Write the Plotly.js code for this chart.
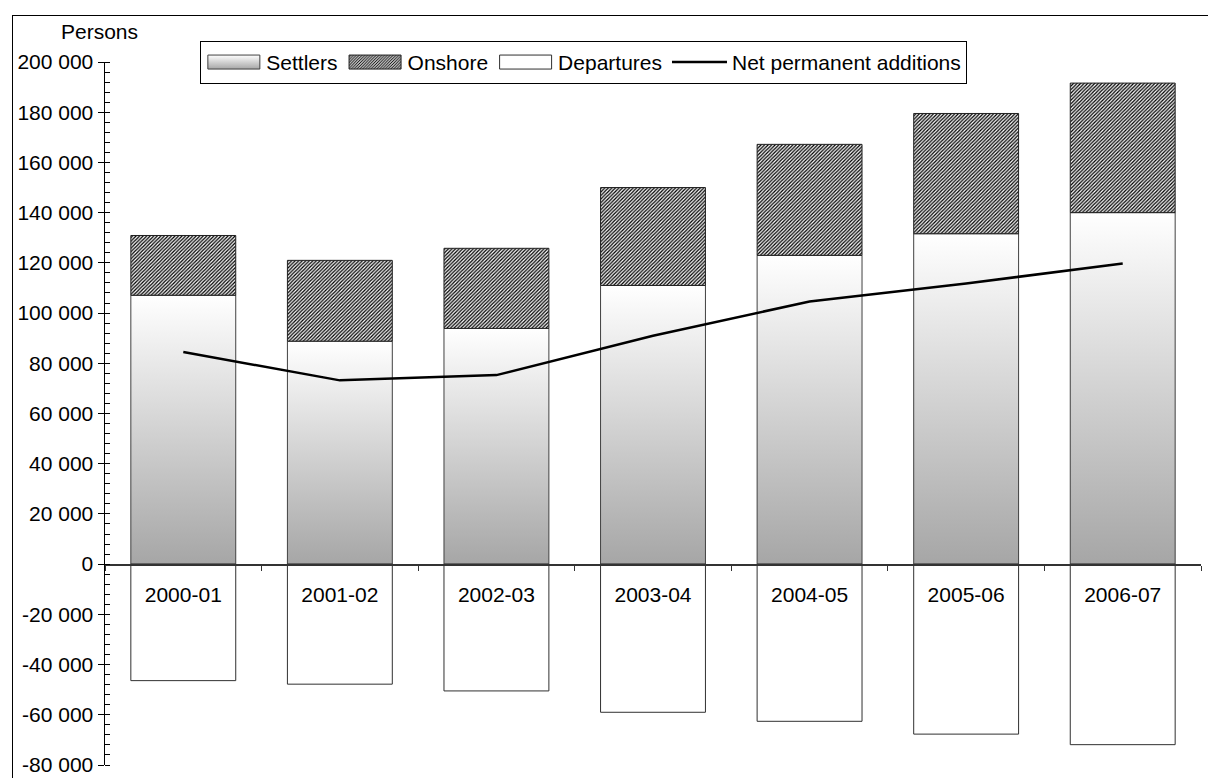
<!DOCTYPE html>
<html>
<head>
<meta charset="utf-8">
<script src="https://cdn.plot.ly/plotly-3.0.1.min.js"></script>
<style>
  html, body { margin: 0; padding: 0; background: #fff; overflow: hidden; }
  #chart { position: absolute; left: 0; top: 0; width: 1208px; height: 778px; }
  #frame { position: absolute; left: 12px; top: 15px; width: 1400px; height: 1000px;
           border: 1.5px solid #000; pointer-events: none; box-sizing: border-box; }
</style>
</head>
<body>
<div id="chart"></div>
<div id="frame"></div>
<script>
// ---- data (persons) ----
const years = ["2000-01", "2001-02", "2002-03", "2003-04", "2004-05", "2005-06", "2006-07"];
const settlers = [107100, 88800, 93900, 111000, 123000, 131600, 140000];
const onshore = [23800, 32200, 31900, 39000, 44200, 47900, 51600];
const departures = [-46400, -47800, -50500, -59000, -62600, -67700, -71900];
const netAdditions = [84500, 73200, 75300, 91000, 104600, 111800, 119700];

const yTickVals = [-80000, -60000, -40000, -20000, 0, 20000, 40000, 60000, 80000, 100000,
                   120000, 140000, 160000, 180000, 200000];
const yTickLabels = ["-80 000", "-60 000", "-40 000", "-20 000", "0", "20 000", "40 000",
                     "60 000", "80 000", "100 000", "120 000", "140 000", "160 000",
                     "180 000", "200 000"];

const FONT = "Liberation Sans, Arial, sans-serif";

const traces = [
  {
    type: "bar", name: "Settlers", x: years, y: settlers,
    marker: { color: "#d0d0d0", line: { color: "#404040", width: 1 } }
  },
  {
    type: "bar", name: "Onshore", x: years, y: onshore,
    marker: {
      color: "#ffffff",
      line: { color: "#202020", width: 1 },
      pattern: { shape: "/", fgcolor: "#000000", bgcolor: "#ffffff", size: 2.5, solidity: 0.5 }
    }
  },
  {
    type: "bar", name: "Departures", x: years, y: departures,
    marker: { color: "#ffffff", line: { color: "#303030", width: 1 } }
  },
  {
    type: "scatter", mode: "lines", name: "Net permanent additions", x: years, y: netAdditions,
    line: { color: "#000000", width: 2.5 }
  }
];

const layout = {
  width: 1208, height: 778,
  margin: { l: 105, r: 7, t: 62, b: 13 },
  paper_bgcolor: "#ffffff", plot_bgcolor: "#ffffff",
  font: { family: FONT, size: 21, color: "#000" },
  barmode: "relative",
  bargap: 0.33,
  showlegend: true,
  legend: {
    orientation: "h", x: 0.087, y: 1.03, xanchor: "left", yanchor: "top",
    bordercolor: "#000", borderwidth: 1, bgcolor: "#fff",
    font: { family: FONT, size: 21 }, itemwidth: 55, tracegroupgap: 0,
    traceorder: "normal"
  },
  xaxis: {
    type: "category",
    anchor: "free", position: 80000 / 280000,
    showline: true, linecolor: "#333", linewidth: 1.5,
    ticks: "outside", ticklen: 5, tickcolor: "#333", tickson: "boundaries",
    ticklabelstandoff: 11,
    showgrid: false, zeroline: false,
    tickfont: { family: FONT, size: 21, color: "#000" },
    fixedrange: true
  },
  yaxis: {
    range: [-80000, 200000],
    tickmode: "array", tickvals: yTickVals, ticktext: yTickLabels,
    showline: true, linecolor: "#000", linewidth: 1.5,
    ticks: "outside", ticklen: 6, tickcolor: "#000",
    minor: { tickmode: "linear", tick0: 0, dtick: 4000, ticks: "inside", ticklen: 5, tickcolor: "#000", showgrid: false },
    showgrid: false, zeroline: false,
    tickfont: { family: FONT, size: 21, color: "#000" },
    fixedrange: true
  },
  annotations: [
    { text: "Persons", xref: "paper", yref: "paper", x: -0.005, y: 1.044,
      xanchor: "center", yanchor: "middle", showarrow: false,
      font: { family: FONT, size: 21, color: "#000" } }
  ]
};

const gd = document.getElementById("chart");

function applyStyling() {
  const svg = gd.querySelector("svg.main-svg");
  if (!svg) return;
  const NS = "http://www.w3.org/2000/svg";
  if (!document.getElementById("settlersGrad")) {
    const defs = document.createElementNS(NS, "defs");
    const grad = document.createElementNS(NS, "linearGradient");
    grad.setAttribute("id", "settlersGrad");
    grad.setAttribute("x1", "0"); grad.setAttribute("y1", "0");
    grad.setAttribute("x2", "0"); grad.setAttribute("y2", "1");
    const s1 = document.createElementNS(NS, "stop");
    s1.setAttribute("offset", "0"); s1.setAttribute("stop-color", "#ffffff");
    const s2 = document.createElementNS(NS, "stop");
    s2.setAttribute("offset", "1"); s2.setAttribute("stop-color", "#a6a6a6");
    grad.appendChild(s1); grad.appendChild(s2);
    defs.appendChild(grad);
    svg.insertBefore(defs, svg.firstChild);
  }
  const barTraces = gd.querySelectorAll(".barlayer .trace");
  if (barTraces.length) {
    barTraces[0].querySelectorAll("path").forEach(p => { p.style.fill = "url(#settlersGrad)"; });
  }
  // widen legend swatches of the bar series to look like the reference's wide boxes
  const legTraces = gd.querySelectorAll(".legend .traces");
  legTraces.forEach((t, i) => {
    if (i > 2) return;
    t.querySelectorAll(".legendpoints path").forEach(p => {
      p.setAttribute("d", "M-26,-7H26V7H-26Z");
      if (i === 0) p.style.fill = "url(#settlersGrad)";
    });
  });
}

Plotly.newPlot(gd, traces, layout, { displayModeBar: false, staticPlot: true }).then(() => {
  applyStyling();
});
</script>
</body>
</html>
